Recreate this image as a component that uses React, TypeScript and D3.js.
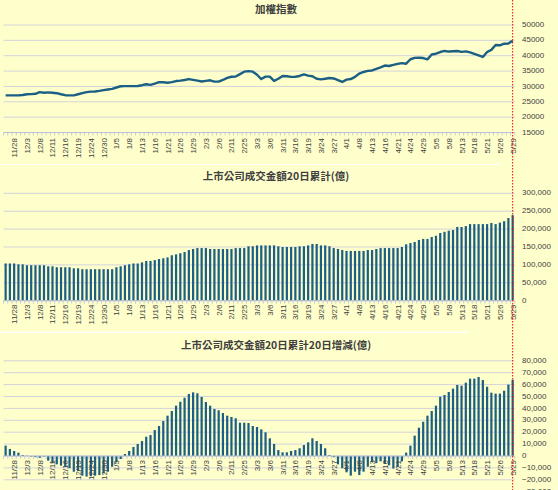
import * as d3 from "d3";

// trading days, 2025/11/26 .. 2026/5/29
const dates = [
  "11/26", "11/27", "11/28", "12/1", "12/2", "12/3", "12/4", "12/5", "12/8", "12/9",
  "12/10", "12/11", "12/12", "12/15", "12/16", "12/17", "12/18", "12/19", "12/22", "12/23",
  "12/24", "12/26", "12/29", "12/30", "12/31", "1/2", "1/5", "1/6", "1/7", "1/8",
  "1/9", "1/12", "1/13", "1/14", "1/15", "1/16", "1/19", "1/20", "1/21", "1/22",
  "1/23", "1/26", "1/27", "1/28", "1/29", "1/30", "2/2", "2/3", "2/4", "2/5",
  "2/6", "2/9", "2/10", "2/11", "2/23", "2/24", "2/25", "2/26", "3/2", "3/3",
  "3/4", "3/5", "3/6", "3/9", "3/10", "3/11", "3/12", "3/13", "3/16", "3/17",
  "3/18", "3/19", "3/20", "3/23", "3/24", "3/25", "3/26", "3/27", "3/30", "3/31",
  "4/1", "4/2", "4/7", "4/8", "4/9", "4/10", "4/13", "4/14", "4/15", "4/16",
  "4/17", "4/20", "4/21", "4/22", "4/23", "4/24", "4/27", "4/28", "4/29", "4/30",
  "5/4", "5/5", "5/6", "5/7", "5/8", "5/11", "5/12", "5/13", "5/14", "5/15",
  "5/18", "5/19", "5/20", "5/21", "5/22", "5/25", "5/26", "5/27", "5/28", "5/29",
];

const taiex = [
  27100, 27100, 27100, 27100, 27200, 27450, 27500, 27600, 28150, 27950,
  28050, 27950, 27800, 27450, 27150, 27100, 27100, 27450, 27800, 28150,
  28300, 28350, 28550, 28800, 29000, 29200, 29650, 30050, 30100, 30100,
  30100, 30150, 30400, 30700, 30500, 30900, 31400, 31350, 31200, 31400,
  31750, 31900, 32100, 32400, 32150, 31900, 31600, 31800, 32000, 31550,
  31550, 32100, 32800, 33150, 33250, 34000, 34800, 35000, 34800, 33800,
  32400, 33200, 33200, 31800, 32500, 33400, 33300, 33100, 33150, 33400,
  33900, 33500, 33300, 32500, 32300, 32500, 32750, 32600, 32050, 31450,
  32200, 32400, 33100, 34200, 34700, 35050, 35200, 35700, 36200, 36800,
  36650, 37000, 37350, 37600, 37400, 38850, 39300, 39350, 39250, 38800,
  40400, 40650, 41200, 41550, 41350, 41450, 41550, 41250, 41400, 41100,
  40600, 40100, 39600, 41200, 41900, 43500, 43400, 43900, 44000, 44850,
];

// 上市公司成交金額20日累計 (億)
const turnover20 = [
  104000, 104000, 104000, 101500, 101500, 99000, 99000, 99000, 99000, 99000,
  96000, 96000, 93500, 93500, 93500, 93500, 90500, 90500, 88000, 88000,
  88000, 88000, 88000, 88000, 88000, 88000, 93500, 96000, 99000, 101500,
  104000, 104000, 107000, 111000, 111000, 113500, 116500, 118500, 121000, 127000,
  129500, 132500, 136000, 141500, 144500, 147000, 147000, 147000, 144500, 144500,
  144500, 144500, 144500, 144500, 147000, 147000, 147000, 152000, 152000, 154500,
  154500, 154500, 154500, 154500, 152000, 150000, 150000, 150000, 150000, 152000,
  152000, 154500, 158500, 158500, 154500, 154500, 152000, 147000, 144500, 141500,
  139000, 139000, 139000, 139000, 139000, 141500, 141500, 144500, 147000, 147000,
  147000, 147000, 147000, 150000, 157500, 161000, 164000, 169500, 172500, 172500,
  178000, 181500, 189000, 192500, 195500, 197500, 206000, 206000, 208500, 214000,
  214000, 214000, 214000, 214000, 217000, 214000, 218000, 222000, 231000, 239000,
];

// 20日累計 20日增減 (億)
const turnoverChg = [
  8700, 5900, 4200, 2800, 800, 200, -500, -1000, -1500, -500,
  -3900, -6100, -7000, -8100, -9000, -10300, -13200, -12500, -16500, -17300,
  -17000, -16500, -16000, -14600, -13200, -9000, -5300, -2500, 1700, 4200,
  7600, 10100, 12600, 16200, 17600, 21800, 25200, 29400, 33900, 37800,
  42300, 45600, 49000, 52100, 53500, 52700, 49600, 45400, 42300, 39500,
  38400, 36100, 33900, 32800, 31700, 28000, 28000, 27700, 25200, 24400,
  22400, 19900, 14900, 10100, 5000, 3100, 3100, 4200, 5000, 6500,
  9200, 11500, 14900, 12600, 10100, 6500, 800, -1000, -7000, -10300,
  -13700, -16500, -13200, -16000, -13200, -9000, -5000, -6000, -4500, -6500,
  -7800, -10500, -9200, -4500, 2800, 8700, 17100, 23800, 28800, 33900,
  37800, 42300, 49800, 51300, 53800, 56600, 59700, 59100, 61600, 65000,
  65000, 66400, 63900, 58200, 53200, 52400, 52400, 54900, 60000, 64100,
];

const taiexTicks = [15000, 20000, 25000, 30000, 35000, 40000, 45000, 50000];
const turnoverTicks = [0, 50000, 100000, 150000, 200000, 250000, 300000];
const chgTicks = [-30000, -20000, -10000, 0, 10000, 20000, 30000, 40000, 50000, 60000, 70000, 80000];

const W = 558;
const H = 490;
const plotLeft = 3.5;
const plotRight = 514.8;
const labelX = 522;

const BG = "#ffffcc";
const GRID = "#d3d3dc";
const AXIS = "#b9c2d6";
const MARK = "#1b5f84";
const TXT = "#404040";
const NUM_FONT = "'Liberation Sans', Arial, sans-serif";
const CJK_FONT = "'Noto Sans CJK TC', 'Liberation Sans', sans-serif";

const x = d3.scaleBand<number>().domain(d3.range(dates.length)).range([plotLeft, plotRight]).paddingInner(0.48).paddingOuter(0.24);
const step = x.step();
const cx = (i: number) => (x(i) ?? 0) + x.bandwidth() / 2;

type PanelProps = {
  title: string;
  titleY: number;
  y: d3.ScaleLinear<number, number>;
  ticks: number[];
  fmt: (v: number) => string;
  axisY: number;
  labelTop: number;
  children?: React.ReactNode;
};

function Panel({ title, titleY, y, ticks, fmt, axisY, labelTop, children }: PanelProps) {
  return (
    <g>
      <text x={276} y={titleY} textAnchor="middle" dominantBaseline="middle" fontFamily={CJK_FONT}
        fontSize={10.5} fontWeight="bold" fill={TXT}>{title}</text>
      {ticks.map((t) => (
        <g key={t}>
          <line x1={plotLeft} x2={plotRight} y1={y(t)} y2={y(t)} stroke={GRID} strokeWidth={1} />
          <text x={labelX} y={y(t)} dominantBaseline="middle" fontFamily={NUM_FONT} fontSize={8} fill={TXT}>
            {fmt(t)}
          </text>
        </g>
      ))}
      {children}
      <line x1={plotLeft} x2={plotRight} y1={axisY} y2={axisY} stroke={AXIS} strokeWidth={1} />
      {d3.range(dates.length + 1).map((i) => (
        <line key={i} x1={plotLeft + i * step} x2={plotLeft + i * step} y1={axisY} y2={axisY + 3} stroke={AXIS} strokeWidth={0.8} />
      ))}
      {dates.map((d, i) =>
        i % 3 === 2 ? (
          <text key={d} transform={`translate(${cx(i) + 3},${labelTop}) rotate(-90)`} textAnchor="end"
            fontFamily={NUM_FONT} fontSize={8} fill={TXT}>{d}</text>
        ) : null
      )}
    </g>
  );
}

export default function App() {
  const y1 = d3.scaleLinear().domain([15000, 50000]).range([132.5, 25]);
  const y2 = d3.scaleLinear().domain([0, 300000]).range([300.7, 193.3]);
  const y3 = d3.scaleLinear().domain([0, 80000]).range([456, 360.8]);

  const line = d3.line<number>().x((_, i) => cx(i)).y((v) => y1(v)).curve(d3.curveLinear);
  const comma = d3.format(",");

  return (
    <svg width={W} height={H} viewBox={`0 0 ${W} ${H}`} style={{ position: "absolute", left: 0, top: 0 }}>
      <rect width={W} height={H} fill={BG} />

      <Panel title="加權指數" titleY={10} y={y1} ticks={taiexTicks} fmt={(v) => String(v)} axisY={132.5} labelTop={138}>
        <path d={line(taiex) ?? ""} fill="none" stroke={MARK} strokeWidth={2.4} strokeLinejoin="round" />
      </Panel>
      <line x1={0} x2={500} y1={164.5} y2={164.5} stroke="#ffffff" strokeWidth={1.2} />

      <Panel title="上市公司成交金額20日累計(億)" titleY={177.5} y={y2} ticks={turnoverTicks} fmt={comma} axisY={300.7} labelTop={304.5}>
        {turnover20.map((v, i) => (
          <rect key={i} x={x(i)} y={y2(v)} width={x.bandwidth()} height={y2(0) - y2(v)} fill={MARK} />
        ))}
      </Panel>
      <line x1={0} x2={469} y1={332.3} y2={332.3} stroke="#ffffff" strokeWidth={1.2} />

      <Panel title="上市公司成交金額20日累計20日增減(億)" titleY={346} y={y3} ticks={chgTicks} fmt={comma} axisY={456} labelTop={460}>
        {turnoverChg.map((v, i) => (
          <rect key={i} x={x(i)} y={Math.min(y3(v), y3(0))} width={x.bandwidth()}
            height={Math.abs(y3(0) - y3(v))} fill={MARK} />
        ))}
      </Panel>

      <line x1={cx(dates.length - 1)} x2={cx(dates.length - 1)} y1={0} y2={H} stroke="#ff0000" strokeWidth={1} strokeDasharray="1.5 1.5" />
    </svg>
  );
}
